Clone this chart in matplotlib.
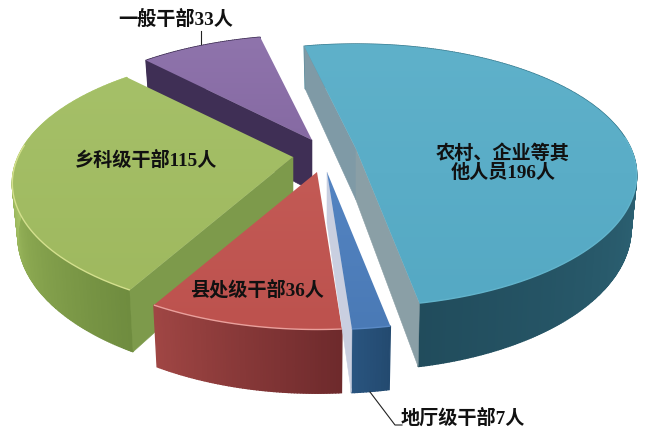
import numpy as np
import matplotlib
matplotlib.use("Agg")
import matplotlib.pyplot as plt
from matplotlib.colors import LinearSegmentedColormap, to_rgb
from matplotlib.patches import Polygon

# data
names = ["农村、企业等其\n他人员196人", "地厅级干部7人", "县处级干部36人", "乡科级干部115人", "一般干部33人"]
values = [196, 7, 36, 115, 33]

# where each exploded slice sits and how the disk is tilted
apex_x = [356, 327, 317, 293, 312]
apex_y = [149, 172, 172, 157, 140]
first_angle = -13
radius_x = 275
radius_y = 126
persp = 0.2
thick = 51
bottom_shrink = 0.98

top_colors = [("#5fb1ca", "#55a9c4"), ("#5484c2", "#4a7ab6"), ("#c35a55", "#bd524e"),
              ("#a5c068", "#9fb95f"), ("#8f74ac", "#866aa3")]
wall_colors = [
    [(0, "#3f8296"), (0.5, "#3f8296"), (0.58, "#2e6577"), (1, "#214c5c")],
    [(0, "#234a70"), (1, "#2a5580")],
    [(0, "#6e2a2c"), (1, "#a04644")],
    [(0, "#6f8c3f"), (0.3, "#8aa750"), (0.55, "#a8c468"), (1, "#a8c468")],
    [(0, "#3f2f55"), (1, "#3f2f55")],
]
# cut faces that can be seen, None where the slice hides them
start_face = ["#7f9aa6", None, None, "#7d9a4b", "#3f2f55"]
end_face = ["#8a9fa6", "#c9cfe0", None, None, None]
rim_colors = ["#62b4cc", "#5a8ac6", "#eaa09c", "#d4e08e", "#9a80b6"]
draw_order = [4, 3, 2, 1, 0]


def rim_point(ang, x0, y0, bottom=False):
    t = np.radians(ang)
    u, v = np.sin(t), -np.cos(t)
    s = 1 / (1 - persp * v)
    dx = radius_x * u * s
    dy = radius_y * v * s
    if bottom:
        return x0 + dx * bottom_shrink, y0 + dy + thick * s
    return x0 + dx, y0 + dy


fig = plt.figure(figsize=(6.55, 4.46), dpi=100)
ax = fig.add_axes([0, 0, 1, 1])

edges = first_angle + np.concatenate([[0], np.cumsum(values)]) / sum(values) * 360

for layer, i in enumerate(draw_order):
    x0, y0 = apex_x[i], apex_y[i]
    a0, a1 = edges[i], edges[i + 1]
    angs = np.linspace(a0, a1, int(a1 - a0) * 2 + 2)
    cmap = LinearSegmentedColormap.from_list("w%d" % i, wall_colors[i])
    base = (x0, y0 + thick)

    # outer wall, piece by piece so the shade can change
    for j in range(len(angs) - 1):
        quad = [rim_point(angs[j], x0, y0), rim_point(angs[j + 1], x0, y0),
                rim_point(angs[j + 1], x0, y0, True), rim_point(angs[j], x0, y0, True)]
        col = cmap((angs[j] - a0) / (a1 - a0))
        ax.add_patch(Polygon(quad, closed=True, fc=col, ec=col, lw=1.0, zorder=layer * 4))

    # the cut faces
    for ang, col in [(a0, start_face[i]), (a1, end_face[i])]:
        if col is None:
            continue
        face = [(x0, y0), rim_point(ang, x0, y0), rim_point(ang, x0, y0, True), base]
        ax.add_patch(Polygon(face, closed=True, fc=col, ec=col, lw=0.4, zorder=layer * 4 + 1))

    # top with a slight vertical gradient
    rim = [rim_point(a, x0, y0) for a in angs]
    top = Polygon([(x0, y0)] + rim, closed=True, fc="none", ec="none", zorder=layer * 4 + 2)
    ax.add_patch(top)
    xs = [p[0] for p in rim] + [x0]
    ys = [p[1] for p in rim] + [y0]
    c0, c1 = to_rgb(top_colors[i][0]), to_rgb(top_colors[i][1])
    grad = np.linspace(0, 1, 64)[:, None, None] * (np.array(c1) - np.array(c0)) + np.array(c0)
    im = ax.imshow(grad, extent=(min(xs), max(xs), max(ys), min(ys)), aspect="auto",
                   zorder=layer * 4 + 2, interpolation="bilinear")
    im.set_clip_path(top)

    # light edge along the near part of the rim
    near = [p for p, a in zip(rim, angs) if np.cos(np.radians(a)) < 0.1]
    if near:
        ax.plot([p[0] for p in near], [p[1] for p in near], color=rim_colors[i], lw=1.0,
                zorder=layer * 4 + 3, solid_capstyle="butt")

# leader lines
ax.plot([201, 201], [31, 44], color="#222222", lw=0.8, zorder=30)
ax.plot([370, 395, 402], [392, 425, 425], color="#222222", lw=0.8, zorder=30)

# labels
font = ["Liberation Serif", "Noto Sans CJK SC"]
label_x = [503, 463, 257, 146, 176]
label_y = [163, 418, 290, 160, 19]
for i, name in enumerate(names):
    ax.text(label_x[i], label_y[i], name, family=font, weight="bold", fontsize=13.8, color="#111111",
            ha="center", va="center", linespacing=1.1, zorder=40)

ax.set_xlim(0, 655)
ax.set_ylim(446, 0)
ax.axis("off")

fig.savefig("out.png", dpi=100)
